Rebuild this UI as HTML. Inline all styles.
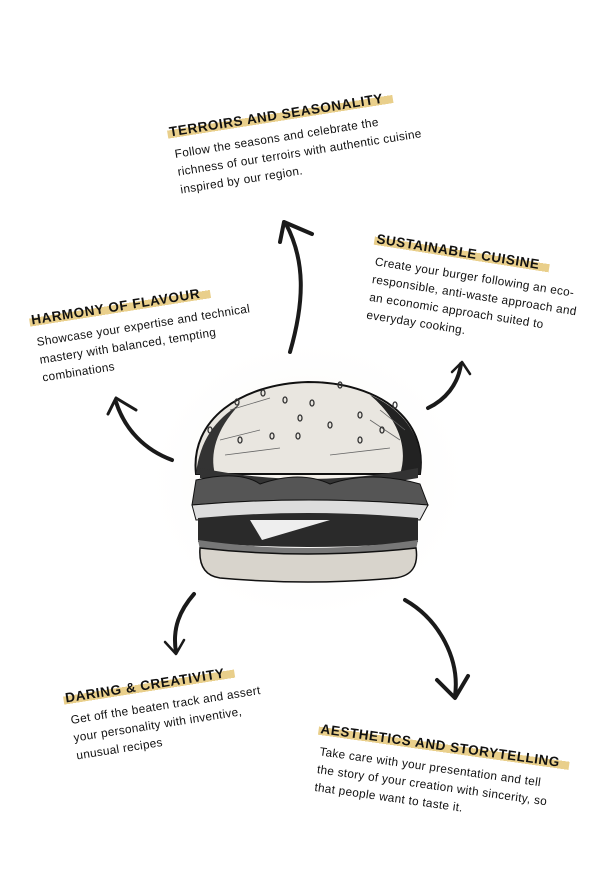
<!DOCTYPE html>
<html><head><meta charset="utf-8"><style>
html,body{margin:0;padding:0;background:#fff;}
body{width:608px;height:896px;position:relative;overflow:hidden;font-family:"Liberation Sans",sans-serif;}
.blk{position:absolute;transform-origin:0 0;color:#111;}
.h{display:inline-block;font-weight:bold;font-size:13.5px;letter-spacing:0.6px;padding:0 10px 0 2px;background:linear-gradient(to bottom,transparent 38%,#e9cf8b 38%,#e9cf8b 92%,transparent 92%);white-space:nowrap;}
.b{font-size:11.8px;line-height:18px;margin-top:4px;padding-left:4px;white-space:nowrap;letter-spacing:0.3px;}
svg{position:absolute;left:0;top:0;}
</style></head><body>
<svg width="608" height="896" viewBox="0 0 608 896">
<defs><radialGradient id="g" cx="50%" cy="50%" r="50%"><stop offset="0" stop-color="#f3eee6"/><stop offset="1" stop-color="#fff" stop-opacity="0"/></radialGradient></defs>
<ellipse cx="308" cy="480" rx="170" ry="150" fill="url(#g)"/>
<path d="M196 474 C190 420 240 384 308 382 C380 382 428 420 420 474 Z" fill="#e9e6e0" stroke="#111" stroke-width="2"/>
<path d="M196 474 C200 440 215 420 240 404 C215 430 210 455 215 474Z" fill="#333"/>
<path d="M420 474 C425 440 405 410 370 395 C400 420 408 450 400 474Z" fill="#222"/>
<g stroke="#666" stroke-width="0.8" fill="none">
<path d="M220 440 L260 430 M225 455 L280 448 M330 455 L390 448 M370 420 L400 440 M380 410 L405 430 M230 410 L270 398"/>
</g>
<path d="M200 468 Q308 490 418 468 L418 478 Q308 498 200 478Z" fill="#333"/>
<path d="M196 480 Q240 470 260 484 Q300 470 330 484 Q370 470 420 484 L428 505 Q308 495 192 505Z" fill="#555" stroke="#111"/>
<path d="M192 505 Q308 495 428 505 L420 520 Q308 512 196 520Z" fill="#ddd" stroke="#111"/>
<path d="M198 518 Q308 508 418 518 L418 542 Q308 552 198 542Z" fill="#2a2a2a"/>
<path d="M250 520 L330 520 L262 540Z" fill="#eee"/>
<path d="M198 540 Q308 556 418 540 L416 550 Q308 562 200 550Z" fill="#777"/>
<path d="M200 548 Q308 560 416 548 Q420 575 395 578 Q308 586 220 578 Q198 575 200 548Z" fill="#d8d4cc" stroke="#111" stroke-width="1.5"/>
<g fill="none" stroke="#333" stroke-width="1.3">
<ellipse cx="237" cy="402" rx="2" ry="3"/><ellipse cx="263" cy="393" rx="2" ry="3"/><ellipse cx="300" cy="418" rx="2" ry="3"/><ellipse cx="312" cy="403" rx="2" ry="3"/><ellipse cx="340" cy="385" rx="2" ry="3"/><ellipse cx="360" cy="415" rx="2" ry="3"/><ellipse cx="240" cy="440" rx="2" ry="3"/><ellipse cx="272" cy="436" rx="2" ry="3"/><ellipse cx="298" cy="436" rx="2" ry="3"/><ellipse cx="330" cy="425" rx="2" ry="3"/><ellipse cx="360" cy="440" rx="2" ry="3"/><ellipse cx="285" cy="400" rx="2" ry="3"/><ellipse cx="210" cy="430" rx="2" ry="3"/><ellipse cx="382" cy="430" rx="2" ry="3"/><ellipse cx="395" cy="405" rx="2" ry="3"/>
</g>
<g fill="none" stroke="#1a1a1a" stroke-width="4" stroke-linecap="round" stroke-linejoin="round">
<path d="M290 352 C305 300 305 260 286 224"/><path d="M280 242 L284 222 L312 234"/>
<path d="M428 408 C445 400 458 385 461 364"/><path d="M452 372 L462 362 L470 374" stroke-width="2.5"/>
<path d="M172 460 C145 450 125 430 116 402"/><path d="M108 414 L116 398 L136 410" stroke-width="3"/>
<path d="M194 594 C180 610 172 628 176 652"/><path d="M165 642 L176 654 L184 640" stroke-width="2.5"/>
<path d="M405 600 C440 620 460 660 455 696"/><path d="M437 680 L455 698 L468 676"/>
</g>
</svg>
<div class="blk" style="left:166px;top:124px;transform:rotate(-9deg)"><div class="h">TERROIRS AND SEASONALITY</div><div class="b">Follow the seasons and celebrate the<br>richness of our terroirs with authentic cuisine<br>inspired by our region.</div></div>
<div class="blk" style="left:376px;top:230px;transform:rotate(9deg)"><div class="h">SUSTAINABLE CUISINE</div><div class="b">Create your burger following an eco-<br>responsible, anti-waste approach and<br>an economic approach suited to<br>everyday cooking.</div></div>
<div class="blk" style="left:28px;top:312px;transform:rotate(-9deg)"><div class="h">HARMONY OF FLAVOUR</div><div class="b">Showcase your expertise and technical<br>mastery with balanced, tempting<br>combinations</div></div>
<div class="blk" style="left:62px;top:690px;transform:rotate(-9deg)"><div class="h">DARING &amp; CREATIVITY</div><div class="b">Get off the beaten track and assert<br>your personality with inventive,<br>unusual recipes</div></div>
<div class="blk" style="left:320px;top:720px;transform:rotate(8deg)"><div class="h">AESTHETICS AND STORYTELLING</div><div class="b">Take care with your presentation and tell<br>the story of your creation with sincerity, so<br>that people want to taste it.</div></div>
</body></html>
